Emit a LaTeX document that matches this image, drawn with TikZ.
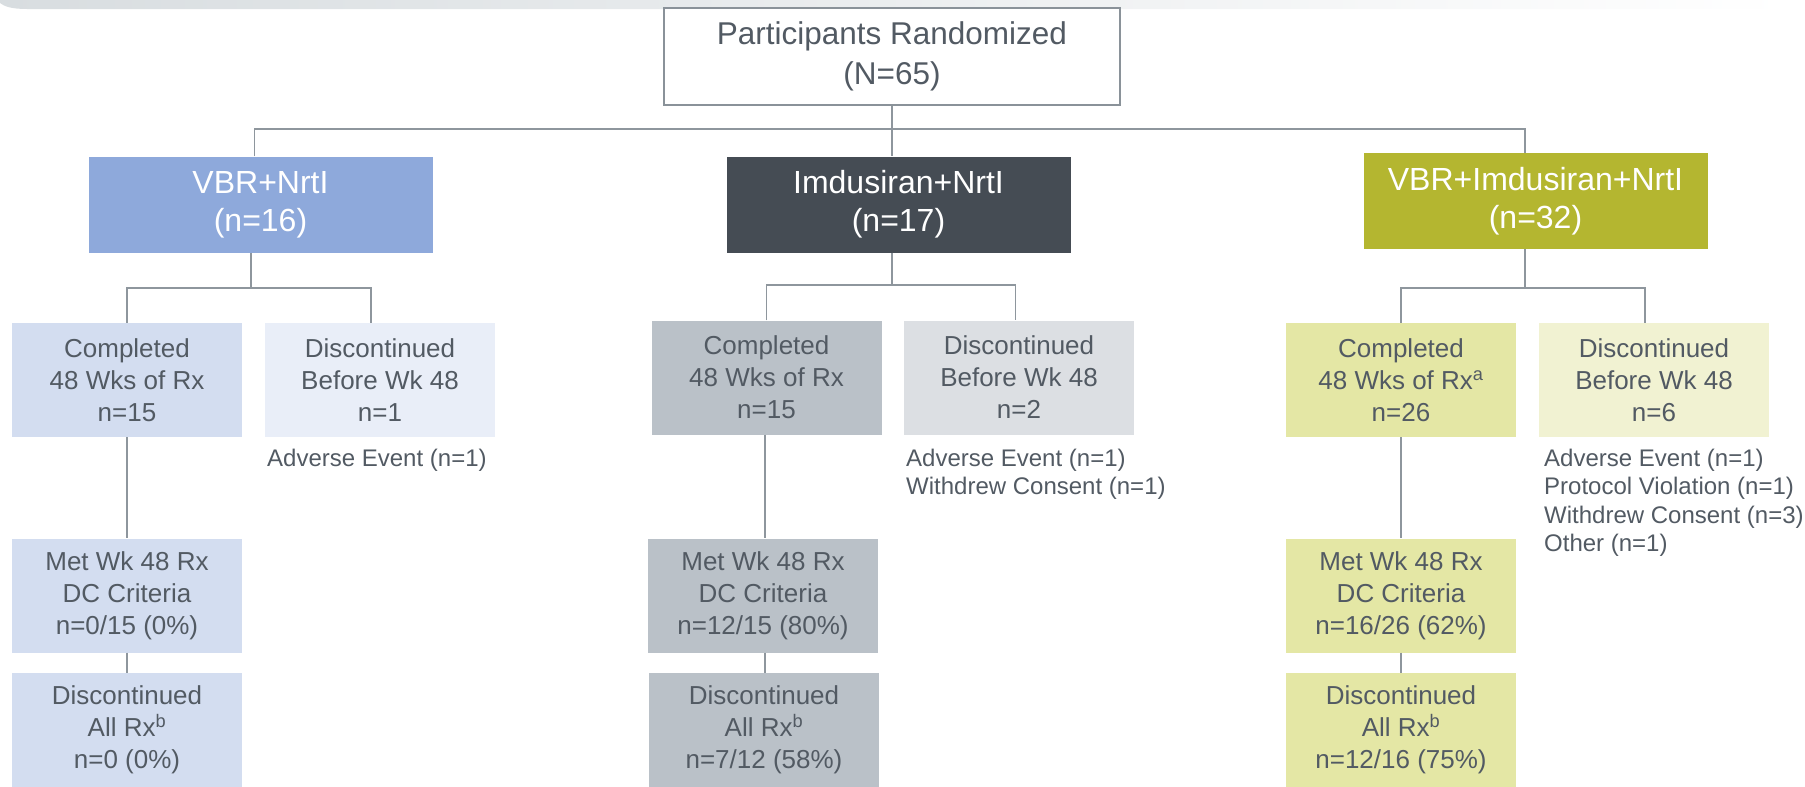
\documentclass[tikz,border=0pt]{standalone}
\usepackage{fontspec}
\setmainfont{Liberation Sans}
\definecolor{txtgray}{HTML}{525A63}
\definecolor{linegray}{HTML}{8E969D}
\definecolor{topborder}{HTML}{8A9299}
\definecolor{bannergray}{HTML}{D8DDE0}
\definecolor{armA}{HTML}{8EA9DB}
\definecolor{armB}{HTML}{454C54}
\definecolor{armC}{HTML}{B4B630}
\definecolor{compA}{HTML}{D3DDF0}
\definecolor{discA}{HTML}{E9EEF8}
\definecolor{compB}{HTML}{BAC1C8}
\definecolor{discB}{HTML}{DCDFE3}
\definecolor{compC}{HTML}{E4E7A5}
\definecolor{discC}{HTML}{F1F2D2}
\begin{document}
\begin{tikzpicture}[x=1pt,y=-1pt,
  box/.style={inner sep=0pt, align=center, text=txtgray,
    font=\fontsize{26}{32}\selectfont, minimum width=230pt, minimum height=114pt},
  arm/.style={inner sep=0pt, align=center, text=white,
    font=\fontsize{32}{38}\selectfont, minimum width=344pt, minimum height=96pt},
  conn/.style={draw=linegray, line width=1.3pt},
  note/.style={inner sep=0pt, anchor=north west, align=left, text=txtgray,
    font=\fontsize{24}{28.4}\selectfont}
]
\useasboundingbox (0,0) rectangle (1805,787);
% decorative banner
\shade[left color=bannergray, right color=white]
  (0,0) -- (1790,0) -- (1790,9) -- (27,9) .. controls (10,9) and (4,6) .. (0,3) -- cycle;

% top
\node[inner sep=0pt, align=center, text=txtgray, draw=topborder, line width=1.2pt, fill=white,
  font=\fontsize{31.5}{40}\selectfont, minimum width=456pt, minimum height=97pt]
  (top) at (892,56.5) {Participants Randomized\\(N=65)};

% arms
\node[arm, fill=armA] (arm1) at (260.5,204.5) {VBR+NrtI\\(n=16)};
\node[arm, fill=armB] (arm2) at (898.5,204.5) {Imdusiran+NrtI\\(n=17)};
\node[arm, fill=armC] (arm3) at (1535.5,201) {VBR+Imdusiran+NrtI\\(n=32)};

% column 1
\node[box, fill=compA] (c1) at (127,380) {Completed\\48 Wks of Rx\\n=15};
\node[box, fill=discA] (d1) at (380,380) {Discontinued\\Before Wk 48\\n=1};
\node[box, fill=compA] (m1) at (127,595.5) {Met Wk 48 Rx\\DC Criteria\\n=0/15 (0\%)};
\node[box, fill=compA] (a1) at (127,730) {Discontinued\\All Rx\textsuperscript{b}\\n=0 (0\%)};
\node[note] (n1) at (267,449) {Adverse Event (n=1)};

% column 2
\node[box, fill=compB] (c2) at (766.5,377.5) {Completed\\48 Wks of Rx\\n=15};
\node[box, fill=discB] (d2) at (1019,377.5) {Discontinued\\Before Wk 48\\n=2};
\node[box, fill=compB] (m2) at (763,595.5) {Met Wk 48 Rx\\DC Criteria\\n=12/15 (80\%)};
\node[box, fill=compB] (a2) at (764,730) {Discontinued\\All Rx\textsuperscript{b}\\n=7/12 (58\%)};
\node[note] (n2) at (906,449) {Adverse Event (n=1)\\Withdrew Consent (n=1)};

% column 3
\node[box, fill=compC] (c3) at (1401,380) {Completed\\48 Wks of Rx\textsuperscript{a}\\n=26};
\node[box, fill=discC] (d3) at (1654,380) {Discontinued\\Before Wk 48\\n=6};
\node[box, fill=compC] (m3) at (1401,595.5) {Met Wk 48 Rx\\DC Criteria\\n=16/26 (62\%)};
\node[box, fill=compC] (a3) at (1401,730) {Discontinued\\All Rx\textsuperscript{b}\\n=12/16 (75\%)};
\node[note] (n3) at (1544,449) {Adverse Event (n=1)\\Protocol Violation (n=1)\\Withdrew Consent (n=3)\\Other (n=1)};

% connectors: top to arms
\coordinate (hb) at (892,129);
\draw[conn] (top.south) -- (hb);
\draw[conn] ([xshift=-6pt]arm1.north) -- ([xshift=-6pt]arm1.north |- hb)
  -- ([xshift=-10.5pt]arm3.north |- hb) -- ([xshift=-10.5pt]arm3.north);
\draw[conn] (hb) -- ([xshift=-6.5pt]arm2.north);

% brackets
\coordinate (b1) at (251,288);
\coordinate (b2) at (892,285);
\coordinate (b3) at (1525,288);
\draw[conn] ([xshift=-9.5pt]arm1.south) -- (b1);
\draw[conn] ([xshift=-6.5pt]arm2.south) -- (b2);
\draw[conn] ([xshift=-10.5pt]arm3.south) -- (b3);
\draw[conn] (c1.north) |- (b1) -| ([xshift=-9pt]d1.north);
\draw[conn] (c2.north) |- (b2) -| ([xshift=-3.5pt]d2.north);
\draw[conn] (c3.north) |- (b3) -| ([xshift=-9pt]d3.north);

% vertical chains
\draw[conn] (c1.south) -- (c1.south |- m1.north);
\draw[conn] (m1.south) -- (m1.south |- a1.north);
\draw[conn] ([xshift=-1.5pt]c2.south) -- ([xshift=-1.5pt]c2.south |- m2.north);
\draw[conn] ([xshift=2pt]m2.south) -- ([xshift=2pt]m2.south |- a2.north);
\draw[conn] (c3.south) -- (c3.south |- m3.north);
\draw[conn] (m3.south) -- (m3.south |- a3.north);
\end{tikzpicture}
\end{document}
